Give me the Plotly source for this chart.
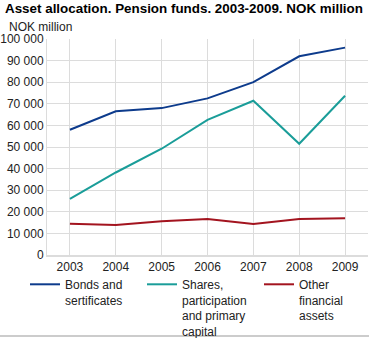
import plotly.graph_objects as go

years = ["2003", "2004", "2005", "2006", "2007", "2008", "2009"]
bonds = [58000, 66500, 68000, 72500, 80000, 92000, 96000]
shares = [26000, 38200, 49200, 62600, 71400, 51500, 73700]
other = [14500, 13900, 15600, 16700, 14300, 16700, 17000]

names = ["Bonds and<br>sertificates", "Shares,<br>participation<br>and primary<br>capital", "Other<br>financial<br>assets"]
colors = ["#0d3b8c", "#1a9d99", "#a3141f"]

W, H = 369, 338
L, R, T, B = 47, 1, 39, 83
pw = W - L - R
ph = H - T - B

fig = go.Figure()
for vals, nm, c in zip([bonds, shares, other], names, colors):
    fig.add_trace(go.Scatter(x=years, y=vals, name=nm, mode="lines",
                             line=dict(color=c, width=2)))

font = dict(family="Liberation Sans, Arial, sans-serif", size=12, color="#222222")
fig.update_layout(
    width=W, height=H,
    margin=dict(l=L, r=R, t=T, b=B, pad=0, autoexpand=False),
    paper_bgcolor="white", plot_bgcolor="white",
    font=font,
    separators=", ",
    showlegend=True,
    legend=dict(orientation="h", x=-22 / pw, xanchor="left", y=-15 / ph, yanchor="top",
                entrywidth=72, entrywidthmode="pixels", valign="top",
                bgcolor="rgba(0,0,0,0)",
                font=dict(size=12, color="#222222"), tracegroupgap=0, itemwidth=30),
    xaxis=dict(type="category", range=[-0.5, 6.5], showgrid=True, gridcolor="#dcdcdc", gridwidth=1,
               showline=True, linecolor="#dcdcdc", linewidth=2, ticks="",
               tickfont=dict(size=12), fixedrange=True),
    yaxis=dict(range=[0, 100000], dtick=10000, tickformat=",d", showgrid=True,
               gridcolor="#dcdcdc", gridwidth=1, showline=True, linecolor="#dcdcdc",
               linewidth=1, ticks="", zeroline=False, tickfont=dict(size=12)),
    annotations=[
        dict(text="<b>Asset allocation. Pension funds. 2003-2009. NOK million</b>",
             xref="paper", yref="paper", x=-(L - 3) / pw, y=1 + (T + 1) / ph,
             xanchor="left", yanchor="top", showarrow=False,
             font=dict(size=13.4, color="#000000")),
        dict(text="NOK million", xref="paper", yref="paper", x=-(L - 7) / pw,
             y=1 + (T - 18) / ph, xanchor="left", yanchor="top", showarrow=False,
             font=dict(size=12, color="#222222")),
    ],
    shapes=[dict(type="line", xref="paper", yref="paper", x0=-L / pw, x1=1 + R / pw,
                 y0=-(336 - (H - B)) / ph, y1=-(336 - (H - B)) / ph,
                 line=dict(color="#cccccc", width=2))],
)

fig.write_html("out.html")
